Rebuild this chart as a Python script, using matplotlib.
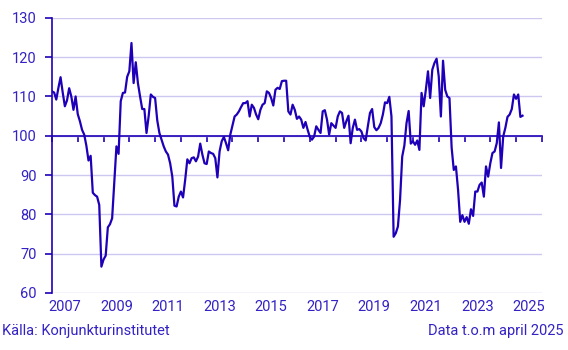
import numpy as np
import matplotlib
matplotlib.use('Agg')
import matplotlib.pyplot as plt

plt.rcParams['font.family'] = ['Roboto', 'DejaVu Sans']

# monthly index values, Jan 2007 - Apr 2025
v2007 = [111.3, 111.0, 109.2, 112.2, 114.9, 111.0, 107.5, 109.0, 112.1, 110.0, 106.6, 110.0]
v2008 = [105.5, 103.7, 101.5, 100.3, 97.5, 93.7, 94.9, 85.5, 84.9, 84.5, 82.4, 66.7]
v2009 = [68.5, 69.5, 76.7, 77.5, 79.0, 88.0, 97.3, 95.4, 108.8, 110.9, 111.0, 115.0]
v2010 = [116.4, 123.6, 113.4, 118.7, 113.4, 110.0, 106.8, 106.8, 100.7, 105.0, 110.5, 109.9]
v2011 = [109.6, 103.9, 100.7, 99.0, 97.3, 96.0, 95.2, 93.0, 89.6, 82.2, 82.0, 84.5]
v2012 = [85.8, 84.3, 88.8, 94.0, 93.0, 94.3, 94.5, 93.5, 94.7, 98.0, 95.2, 93.0]
v2013 = [92.8, 96.0, 95.6, 95.4, 94.3, 89.4, 96.0, 98.6, 99.7, 98.1, 96.3, 100.3]
v2014 = [102.6, 104.9, 105.4, 106.2, 107.3, 108.3, 108.3, 108.8, 104.9, 107.9, 107.1, 105.4]
v2015 = [104.2, 106.6, 107.9, 108.3, 111.3, 110.9, 109.6, 107.7, 111.7, 112.2, 111.9, 113.9]
v2016 = [114.0, 114.0, 106.2, 105.4, 107.9, 106.6, 104.3, 104.9, 104.1, 102.0, 103.5, 101.5]
v2017 = [99.7, 99.0, 99.8, 102.4, 101.5, 100.7, 106.2, 106.5, 104.1, 100.3, 103.2, 102.6]
v2018 = [102.0, 104.9, 106.2, 105.8, 102.0, 103.7, 105.1, 98.1, 102.0, 104.1, 101.5, 101.7]
v2019 = [101.1, 99.4, 98.8, 102.4, 105.8, 106.8, 102.2, 101.4, 102.0, 103.2, 105.4, 108.5]
v2020 = [108.3, 109.9, 104.9, 74.3, 75.2, 76.9, 83.7, 94.7, 97.5, 103.2, 106.3, 98.0]
v2021 = [98.6, 97.7, 98.8, 96.4, 110.9, 107.5, 111.7, 116.4, 109.6, 116.8, 118.5, 119.6]
v2022 = [115.1, 104.9, 119.1, 111.7, 110.0, 109.6, 97.0, 91.3, 92.2, 86.2, 78.1, 79.8]
v2023 = [78.1, 79.3, 77.6, 81.3, 79.6, 85.8, 85.8, 87.5, 88.1, 84.5, 92.2, 89.6]
v2024 = [93.0, 95.6, 96.0, 98.1, 103.4, 91.8, 99.8, 102.0, 104.8, 105.4, 106.8, 110.5]
v2025 = [109.4, 110.5, 104.8, 105.1]

values = (v2007 + v2008 + v2009 + v2010 + v2011 + v2012 + v2013 + v2014 + v2015
          + v2016 + v2017 + v2018 + v2019 + v2020 + v2021 + v2022 + v2023 + v2024 + v2025)
start_year = 2007
year_labels = ['2007', '2009', '2011', '2013', '2015', '2017', '2019', '2021', '2023', '2025']
source = 'Källa: Konjunkturinstitutet'
note = 'Data t.o.m april 2025'

line_col = '#1f00b8'
text_col = '#3322c4'
grid_col = '#cdc8f0'

x = start_year + np.arange(len(values)) / 12

fig = plt.figure(figsize=(5.68, 3.5), dpi=100)
ax = fig.add_axes([0.0915, 0.163, 0.8625, 0.786])

ax.plot(x, values, color=line_col, lw=1.6, zorder=3)

ax.set_xlim(2007, 2026)
ax.set_ylim(60, 130)
ax.set_yticks(np.arange(60, 131, 10))
ax.yaxis.grid(True, color=grid_col, lw=1)
ax.set_axisbelow(True)

for s in ['top', 'right']:
    ax.spines[s].set_visible(False)
ax.spines['left'].set_color(line_col)
ax.spines['left'].set_linewidth(1.2)
ax.spines['bottom'].set_position(('data', 100))
ax.spines['bottom'].set_color(line_col)
ax.spines['bottom'].set_linewidth(1.2)
ax.spines['bottom'].set_zorder(2)

ax.set_xticks(np.arange(2007, 2027))
ax.tick_params(axis='x', direction='out', length=4, width=1.2, color=line_col, labelbottom=False)
ax.tick_params(axis='y', direction='out', length=5, width=1.2, color=line_col,
               labelcolor=text_col, labelsize=10.5, pad=6)

# year labels centred in the year, placed at the bottom of the plot
sec = ax.secondary_xaxis('bottom')
sec.set_xticks([int(y) + 0.5 for y in year_labels])
sec.set_xticklabels(year_labels)
sec.tick_params(length=0, labelcolor=text_col, labelsize=10.5, pad=5)
sec.spines['bottom'].set_visible(False)

fig.text(0.004, 0.035, source, color=text_col, fontsize=10.5, ha='left', va='bottom')
fig.text(0.992, 0.035, note, color=text_col, fontsize=10.5, ha='right', va='bottom')

fig.savefig('out.png', dpi=100)
